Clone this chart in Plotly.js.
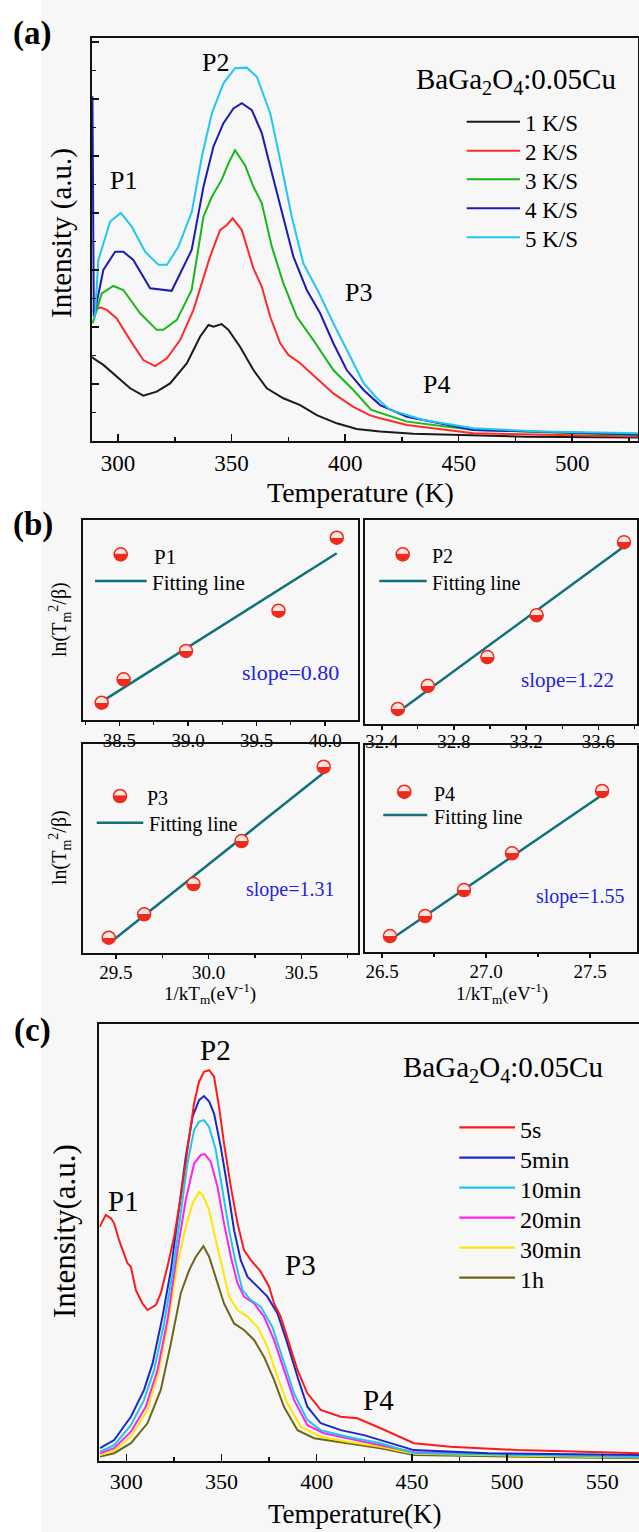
<!DOCTYPE html>
<html>
<head>
<meta charset="utf-8">
<script src="https://cdn.plot.ly/plotly-3.0.1.min.js"></script>
<style>
html,body{margin:0;padding:0;background:#ffffff;}
#chart{width:639px;height:1532px;}
</style>
</head>
<body>
<div id="chart"></div>
<script>
// ---------------- DATA ----------------
// Panel (a): TL curves at different heating rates (Temperature K, intensity a.u.)
const rateNames = ['1 K/S', '2 K/S', '3 K/S', '4 K/S', '5 K/S'];
const tempA1 = [288.6, 289.1, 293.5, 297.9, 300.9, 305.3, 311.1, 317.0, 322.9, 330.3, 336.1, 339.8, 342.0, 345.6, 348.6, 353.7, 359.6, 365.5, 372.8, 380.2, 387.5, 396.3, 405.1, 415.4, 430, 450, 480, 529];
const intA1  = [2.95, 2.9, 2.67, 2.37, 2.14, 1.85, 1.59, 1.73, 2.02, 2.73, 3.66, 4.07, 4.01, 4.1, 3.9, 3.31, 2.49, 1.85, 1.5, 1.26, 0.91, 0.62, 0.42, 0.33, 0.25, 0.2, 0.15, 0.12];
const tempA2 = [288.8, 292.1, 295.0, 299.4, 305.3, 311.1, 316.3, 321.5, 327.3, 333.2, 340.5, 344.9, 347.9, 350.5, 354.5, 356.7, 359.6, 363.3, 367.0, 371.4, 375.0, 380.2, 387.5, 394.8, 403.6, 411.0, 415.4, 427.2, 456.5, 529];
const intA2  = [4.54, 4.69, 4.6, 4.3, 3.54, 2.84, 2.63, 2.9, 3.54, 4.6, 6.47, 7.4, 7.58, 7.81, 7.4, 6.82, 6.06, 5.41, 4.36, 3.43, 3.02, 2.73, 2.2, 1.67, 1.2, 0.9, 0.8, 0.56, 0.27, 0.16];
const tempA3 = [288.8, 292.8, 297.9, 302.3, 309.7, 317.0, 319.9, 325.9, 332.4, 337.6, 341.3, 345.6, 348.6, 351.5, 355.9, 359.6, 363.3, 367.7, 372.8, 378.7, 386.0, 389.0, 394.8, 403.6, 411.5, 427.2, 456.5, 529];
const intA3  = [4.13, 5.18, 5.44, 5.3, 4.48, 3.9, 3.9, 4.25, 5.3, 7.87, 8.57, 9.16, 9.74, 10.2, 9.68, 8.92, 8.34, 6.82, 5.53, 4.36, 3.54, 3.19, 2.49, 1.79, 1.09, 0.68, 0.39, 0.2];
const tempA4 = [288.7, 289.3, 293.5, 298.7, 302.3, 306.7, 314.1, 318.5, 323.6, 332.4, 337.6, 342.0, 346.4, 350.8, 354.5, 358.9, 363.3, 367.0, 371.4, 377.2, 383.1, 389.0, 394.8, 400.7, 408.1, 415.4, 427.2, 456.5, 529];
const intA4  = [12.1, 4.36, 6.0, 6.64, 6.64, 6.35, 5.36, 5.33, 5.27, 6.7, 8.92, 10.33, 11.15, 11.67, 11.85, 11.61, 10.8, 9.63, 8.22, 6.47, 5.3, 4.48, 3.43, 2.49, 1.79, 1.26, 0.85, 0.39, 0.23];
const tempA5 = [289.3, 289.9, 291.3, 296.5, 301.2, 306.0, 311.9, 317.8, 321.5, 326.6, 332.5, 336.9, 341.3, 346.4, 351.5, 356.7, 361.1, 367.0, 371.4, 376.5, 381.6, 388.2, 394.8, 400.7, 408.0, 414.0, 419.8, 434.5, 456.5, 485.9, 529];
const intA5  = [4.3, 4.49, 6.35, 7.7, 8.0, 7.52, 6.64, 6.18, 6.18, 6.82, 8.05, 9.98, 11.5, 12.55, 13.08, 13.1, 12.78, 11.5, 9.86, 7.87, 6.23, 5.24, 4.13, 3.19, 2.05, 1.5, 1.09, 0.74, 0.45, 0.33, 0.27];

// Panel (b): ln(Tm^2/beta) vs 1/kTm
const invKT_P1 = [38.37, 38.53, 38.985, 39.66, 40.085];
const lnT_P1   = [9.808, 10.025, 10.287, 10.66, 11.336];
const fitX_P1  = [38.37, 40.085];
const fitY_P1  = [9.818, 11.192];
const invKT_P2 = [32.489, 32.655, 32.985, 33.258, 33.742];
const lnT_P2   = [10.147, 10.36, 10.625, 11.01, 11.681];
const fitX_P2  = [32.489, 33.742];
const fitY_P2  = [10.117, 11.641];
const invKT_P3 = [29.461, 29.652, 29.918, 30.177, 30.62];
const lnT_P3   = [10.342, 10.552, 10.823, 11.209, 11.875];
const fitX_P3  = [29.464, 30.627];
const fitY_P3  = [10.292, 11.831];
const invKT_P4 = [26.538, 26.707, 26.894, 27.125, 27.558];
const lnT_P4   = [10.701, 10.891, 11.139, 11.489, 12.082];
const fitX_P4  = [26.538, 27.558];
const fitY_P4  = [10.663, 12.044];
const peakNames = ['P1', 'P2', 'P3', 'P4'];
const slopeTexts = ['slope=0.80', 'slope=1.22', 'slope=1.31', 'slope=1.55'];

// Panel (c): TL curves after different decay times
const decayNames = ['5s', '5min', '10min', '20min', '30min', '1h'];
const tempC1 = [286.0, 289.2, 291.9, 293.6, 296.2, 300.6, 302.4, 305.0, 308.5, 311.1, 315.5, 318.1, 321.6, 325.1, 328.6, 332.1, 335.6, 338.2, 340.8, 343.5, 346.1, 348.7, 351.3, 354.9, 358.4, 361.8, 365.4, 370.6, 375.0, 377.6, 381.1, 385.5, 389.9, 395.1, 402.1, 412.6, 421.4, 433.6, 451.1, 470.3, 505.3, 569.3];
const intC1  = [7.5, 7.88, 7.77, 7.61, 7.07, 6.33, 6.22, 5.47, 5.04, 4.83, 4.99, 5.37, 6.22, 7.18, 8.46, 9.96, 11.46, 12.15, 12.47, 12.52, 12.31, 11.35, 10.17, 8.78, 7.61, 6.75, 6.43, 6.06, 5.58, 5.04, 4.62, 3.76, 2.91, 2.16, 1.63, 1.41, 1.36, 1.04, 0.56, 0.45, 0.34, 0.24];
const tempC2 = [286.2, 293.6, 302.4, 309.3, 313.8, 319.0, 323.4, 327.7, 331.2, 334.8, 338.2, 340.8, 343.5, 346.1, 349.6, 353.1, 356.6, 360.1, 363.6, 368.9, 374.1, 379.4, 384.6, 389.9, 395.1, 402.1, 412.6, 424.8, 433.6, 451.0, 490, 569.3];
const intC2  = [0.4, 0.66, 1.41, 2.27, 3.12, 4.62, 6.11, 8.14, 9.74, 11.03, 11.56, 11.69, 11.51, 11.13, 10.06, 8.78, 7.39, 6.43, 5.9, 5.58, 5.26, 4.72, 3.76, 2.69, 1.73, 1.2, 0.98, 0.82, 0.66, 0.34, 0.24, 0.18];
const tempC3 = [286.2, 293.6, 302.4, 309.3, 314.6, 319.8, 324.3, 328.6, 332.1, 335.6, 338.2, 340.8, 343.5, 347.0, 350.5, 354.0, 357.5, 361.0, 365.4, 370.6, 376.7, 382.8, 388.1, 395.1, 402.1, 416.1, 433.6, 451.0, 569.3];
const intC3  = [0.29, 0.5, 1.14, 1.95, 2.91, 4.4, 6.0, 8.04, 9.53, 10.6, 10.87, 10.92, 10.7, 9.96, 8.68, 7.39, 6.33, 5.47, 5.15, 4.94, 4.29, 3.12, 2.16, 1.3, 0.98, 0.77, 0.56, 0.24, 0.13];
const tempC4 = [286.2, 293.6, 302.4, 310.2, 316.4, 321.6, 326.9, 331.2, 335.6, 339.1, 341.2, 344.4, 347.9, 351.3, 354.9, 358.4, 361.8, 367.1, 372.3, 377.6, 382.8, 388.1, 395.1, 403.8, 416.1, 433.6, 451.0, 569.3];
const intC4  = [0.24, 0.4, 0.93, 1.73, 2.91, 4.51, 6.75, 8.36, 9.53, 9.8, 9.83, 9.58, 8.78, 7.61, 6.54, 5.69, 5.26, 5.04, 4.62, 3.87, 2.91, 1.95, 1.14, 0.88, 0.72, 0.5, 0.27, 0.12];
const tempC5 = [286.2, 293.6, 302.4, 311.1, 317.2, 322.5, 326.9, 331.2, 334.8, 338.2, 340.0, 343.5, 347.0, 350.5, 354.0, 358.4, 363.6, 368.9, 374.1, 379.4, 384.6, 391.6, 402.1, 416.1, 433.6, 451.0, 569.3];
const intC5  = [0.18, 0.32, 0.77, 1.63, 2.91, 4.62, 6.33, 7.5, 8.25, 8.62, 8.52, 8.04, 7.07, 6.11, 5.26, 4.83, 4.62, 4.29, 3.65, 2.69, 1.84, 1.09, 0.77, 0.61, 0.45, 0.22, 0.1];
const tempC6 = [286.2, 293.6, 302.4, 311.1, 318.1, 323.4, 328.6, 333.0, 336.5, 339.1, 340.5, 343.5, 347.0, 351.3, 356.6, 361.8, 367.1, 372.3, 377.6, 382.8, 389.9, 398.6, 416.1, 433.6, 451.0, 569.3];
const intC6  = [0.13, 0.24, 0.56, 1.2, 2.27, 3.76, 5.37, 6.11, 6.54, 6.75, 6.88, 6.54, 5.9, 5.04, 4.4, 4.19, 3.87, 3.33, 2.59, 1.73, 0.98, 0.72, 0.56, 0.4, 0.18, 0.08];

// ---------------- STYLE / LAYOUT ----------------
const W = 639, H = 1532;
const FONT = 'Liberation Serif, Times New Roman, serif';
const fx = v => v / W;
const fy = v => 1 - v / H;
const RED = '#ee2b1d';
const TEAL = '#12707a';
const rateColors = ['#1a1a1a', '#ff2a2a', '#18b818', '#1c1cb4', '#1ec8f0'];
const decayColors = ['#ff1a1a', '#1a28c8', '#1cc8e8', '#ff22ee', '#ffe600', '#6e6616'];

const tA = [tempA1, tempA2, tempA3, tempA4, tempA5];
const iA = [intA1, intA2, intA3, intA4, intA5];
const tC = [tempC1, tempC2, tempC3, tempC4, tempC5, tempC6];
const iC = [intC1, intC2, intC3, intC4, intC5, intC6];
const bX = [invKT_P1, invKT_P2, invKT_P3, invKT_P4];
const bY = [lnT_P1, lnT_P2, lnT_P3, lnT_P4];
const fX = [fitX_P1, fitX_P2, fitX_P3, fitX_P4];
const fY = [fitY_P1, fitY_P2, fitY_P3, fitY_P4];

const traces = [];
rateNames.forEach((n, i) => traces.push({
  type: 'scatter', mode: 'lines', name: n, x: tA[i], y: iA[i], xaxis: 'x', yaxis: 'y',
  line: { color: rateColors[i], width: 2 }, showlegend: false, hoverinfo: 'skip'
}));
peakNames.forEach((n, k) => {
  const ax = k + 2;
  traces.push({
    type: 'scatter', mode: 'lines', name: 'Fitting line', x: fX[k], y: fY[k],
    xaxis: 'x' + ax, yaxis: 'y' + ax, line: { color: TEAL, width: 2.5 }, showlegend: false, hoverinfo: 'skip'
  });
  traces.push({
    type: 'scatter', mode: 'markers', name: n, x: bX[k], y: bY[k],
    xaxis: 'x' + ax, yaxis: 'y' + ax, showlegend: false, hoverinfo: 'skip',
    marker: { symbol: 'circle', size: 13, color: '#fde4df', line: { color: RED, width: 1.5 },
      gradient: { type: 'vertical', color: RED } }
  });
});
for (let i = decayNames.length - 1; i >= 0; i--) {
  traces.push({
    type: 'scatter', mode: 'lines', name: decayNames[i], x: tC[i], y: iC[i], xaxis: 'x6', yaxis: 'y6',
    line: { color: decayColors[i], width: 2 }, showlegend: false, hoverinfo: 'skip'
  });
}

function frameAxis(extra) {
  return Object.assign({
    showline: true, linecolor: '#111', linewidth: 2, mirror: true, showgrid: false, zeroline: false,
    fixedrange: true, ticks: '', tickcolor: '#111', tickwidth: 1.5,
    tickfont: { family: FONT, size: 19, color: '#000' }
  }, extra);
}
function bX_axis(dom, range, tick0, dtick, anchor, standoff) {
  return frameAxis({
    domain: dom, range: range, anchor: anchor, tickmode: 'linear', tick0: tick0, dtick: dtick,
    tickformat: '.1f', ticks: 'outside', ticklen: 4, ticklabelstandoff: standoff,
    minor: { tick0: tick0, dtick: dtick / 2, ticks: 'outside', ticklen: 2.5, tickwidth: 1.2, tickcolor: '#111' },
    tickfont: { family: FONT, size: 19, color: '#000' }
  });
}
function bY_axis(dom, range, anchor) {
  return frameAxis({ domain: dom, range: range, anchor: anchor, showticklabels: false, ticks: '' });
}

const layout = {
  width: W, height: H, autosize: false,
  margin: { l: 0, r: 0, t: 0, b: 0, pad: 0 },
  paper_bgcolor: '#ffffff', plot_bgcolor: '#f8f8f8',
  showlegend: false,
  font: { family: FONT, color: '#000', size: 16 },
  xaxis: frameAxis({
    domain: [fx(92), fx(638)], anchor: 'y', range: [288.5, 529], tickmode: 'linear', tick0: 300, dtick: 50,
    ticks: 'inside', ticklen: 7,
    minor: { tick0: 300, dtick: 25, ticks: 'inside', ticklen: 4, tickwidth: 1.5, tickcolor: '#111' },
    tickfont: { family: FONT, size: 23, color: '#000' }
  }),
  yaxis: frameAxis({
    domain: [fy(441), fy(38)], anchor: 'x', range: [0, 14.14], showticklabels: false,
    tickmode: 'linear', tick0: 0, dtick: 2, ticks: 'inside', ticklen: 7,
    minor: { dtick: 1, ticks: 'inside', ticklen: 4, tickwidth: 1.5, tickcolor: '#111' }
  }),
  xaxis2: bX_axis([fx(83.3), fx(358)], [38.236, 40.24], 38.5, 0.5, 'y2', -2),
  yaxis2: bY_axis([fy(720), fy(520)], [9.648, 11.50], 'x2'),
  xaxis3: bX_axis([fx(365), fx(637)], [32.307, 33.814], 32.4, 0.4, 'y3', -5),
  yaxis3: bY_axis([fy(724), fy(520)], [10.009, 11.885], 'x3'),
  xaxis4: bX_axis([fx(83.3), fx(358)], [29.324, 30.805], 29.5, 0.5, 'y4', -3),
  yaxis4: bY_axis([fy(953), fy(744)], [10.205, 12.079], 'x4'),
  xaxis5: bX_axis([fx(365), fx(637)], [26.418, 27.726], 26.5, 0.5, 'y5', -3),
  yaxis5: bY_axis([fy(952), fy(745)], [10.549, 12.52], 'x5'),
  xaxis6: frameAxis({
    domain: [fx(99.3), 1], anchor: 'y6', range: [285.8, 569.3], tickmode: 'linear', tick0: 300, dtick: 50,
    ticks: 'inside', ticklen: 7,
    minor: { tick0: 300, dtick: 25, ticks: 'inside', ticklen: 4, tickwidth: 1.5, tickcolor: '#111' },
    tickfont: { family: FONT, size: 22, color: '#000' }
  }),
  yaxis6: frameAxis({ domain: [fy(1460.7), fy(1024)], anchor: 'x6', range: [0, 14], mirror: false, showticklabels: false, ticks: '' }),
  shapes: [],
  annotations: []
};

// background tint
layout.shapes.push({ type: 'rect', layer: 'below', xref: 'paper', yref: 'paper', x0: fx(41), x1: 1, y0: 0, y1: 1,
  fillcolor: '#f7f7f7', line: { width: 0 } });

function label(text, x, y, size, o) {
  o = o || {};
  const dy = (o.dy !== undefined) ? o.dy : 0.1 * size;
  return {
    text: text, xref: 'paper', yref: 'paper', showarrow: false,
    x: fx(x), y: fy(y + dy), xanchor: o.xanchor || 'center', yanchor: 'middle',
    textangle: o.angle || 0,
    font: { family: FONT, size: size, color: o.color || '#000' }
  };
}
function legLine(x0, x1, y, color, width) {
  return { type: 'line', xref: 'paper', yref: 'paper', x0: fx(x0), x1: fx(x1), y0: fy(y), y1: fy(y),
    line: { color: color, width: width } };
}
function legMarker(cx, cy, r) {
  const k = 0.5523;
  const P = (x, y) => fx(x).toFixed(5) + ',' + fy(y).toFixed(5);
  const path = 'M' + P(cx - r, cy) + ' C' + P(cx - r, cy + k * r) + ' ' + P(cx - k * r, cy + r) + ' ' + P(cx, cy + r) +
    ' C' + P(cx + k * r, cy + r) + ' ' + P(cx + r, cy + k * r) + ' ' + P(cx + r, cy) + ' Z';
  return [
    { type: 'circle', xref: 'paper', yref: 'paper', x0: fx(cx - r), x1: fx(cx + r), y0: fy(cy + r), y1: fy(cy - r),
      fillcolor: '#fde4df', line: { color: RED, width: 1.5 } },
    { type: 'path', xref: 'paper', yref: 'paper', path: path, fillcolor: RED, line: { color: RED, width: 1 } }
  ];
}

const A = layout.annotations, S = layout.shapes;
// panel labels
A.push(label('<b>(a)</b>', 32, 30, 33));
A.push(label('<b>(b)</b>', 33, 521, 33));
A.push(label('<b>(c)</b>', 32, 1027, 33));

// panel (a) texts
A.push(label('P1', 123.3, 178.3, 26));
A.push(label('P2', 215, 60, 26));
A.push(label('P3', 358.3, 290, 26));
A.push(label('P4', 436.7, 381.7, 26));
A.push(label('BaGa<sub>2</sub>O<sub>4</sub>:0.05Cu', 516, 77, 29, { dy: 4 }));
const legYA = [121.7, 150.7, 179.3, 208.3, 237.3];
rateNames.forEach((n, i) => {
  S.push(legLine(466.7, 520, legYA[i], rateColors[i], 2));
  A.push(label(n, 523, legYA[i], 23, { xanchor: 'left' }));
});
A.push(label('Temperature (K)', 360, 490, 28));
A.push(label('Intensity (a.u.)', 61, 233, 29, { angle: -90, dy: 0 }));

// panel (b) texts
const legB = [
  { m: [120.7, 554.3], t: [151.7, 555], l: [95, 146.7, 581], ft: [150, 581], s: [290, 670], fs: 21, ss: 22 },
  { m: [402.7, 554.3], t: [430, 554], l: [379.3, 426.7, 581], ft: [430, 581], s: [567, 677.7], fs: 20, ss: 21 },
  { m: [120, 796], t: [145, 796], l: [96.7, 143.3, 822.7], ft: [146.7, 822.7], s: [290, 887.7], fs: 20, ss: 20 },
  { m: [404.3, 791.7], t: [431.7, 791.7], l: [383.3, 427.3, 815], ft: [431.7, 815], s: [580.5, 894.3], fs: 20, ss: 20 }
];
legB.forEach((g, k) => {
  legMarker(g.m[0], g.m[1], 6.5).forEach(s => S.push(s));
  A.push(label(peakNames[k], g.t[0], g.t[1], g.fs, { xanchor: 'left' }));
  S.push(legLine(g.l[0], g.l[1], g.l[2], TEAL, 2.5));
  A.push(label('Fitting line', g.ft[0], g.ft[1], g.fs, { xanchor: 'left' }));
  A.push(label(slopeTexts[k], g.s[0], g.s[1], g.ss, { color: '#2323dc' }));
});
A.push(label('ln(T<sub>m</sub><sup>2</sup>/β)', 60, 620, 20, { angle: -90, dy: 0 }));
A.push(label('ln(T<sub>m</sub><sup>2</sup>/β)', 60, 848, 20, { angle: -90, dy: 0 }));
A.push(label('1/kT<sub>m</sub>(eV<sup>-1</sup>)', 210, 993, 19, { dy: 0 }));
A.push(label('1/kT<sub>m</sub>(eV<sup>-1</sup>)', 502, 993, 19, { dy: 0 }));

// panel (c) texts
A.push(label('P1', 123.3, 1198.3, 29));
A.push(label('P2', 215, 1046.7, 29));
A.push(label('P3', 300, 1261.7, 29));
A.push(label('P4', 378.3, 1396.7, 29));
A.push(label('BaGa<sub>2</sub>O<sub>4</sub>:0.05Cu', 502.5, 1065, 29, { dy: 4 }));
const legYC = [1127.3, 1157.7, 1187.7, 1217.7, 1247.7, 1277.7];
decayNames.forEach((n, i) => {
  S.push(legLine(459.3, 515, legYC[i], decayColors[i], 2.2));
  A.push(label(n, 518, legYC[i], 24, { xanchor: 'left' }));
});
A.push(label('Temperature(K)', 355, 1514, 27, { dy: 0 }));
A.push(label('Intensity(a.u.)', 64, 1231, 31, { angle: -90, dy: 0 }));

function finish() {
  // half-filled markers: hard split of the vertical marker gradient
  document.querySelectorAll('#chart linearGradient').forEach(g => {
    const st = Array.from(g.querySelectorAll('stop'));
    if (st.length !== 2) return;
    const a = st[0].cloneNode(true), b = st[1].cloneNode(true);
    a.setAttribute('offset', '50%');
    b.setAttribute('offset', '50%');
    g.insertBefore(a, st[1]);
    g.insertBefore(b, st[1]);
  });
  // drop empty placeholder text nodes
  document.querySelectorAll('#chart text').forEach(t => {
    if (!t.textContent || !t.textContent.trim()) t.parentNode && t.parentNode.removeChild(t);
  });
}

Plotly.newPlot('chart', traces, layout, { displayModeBar: false, staticPlot: true }).then(finish);
</script>
</body>
</html>
